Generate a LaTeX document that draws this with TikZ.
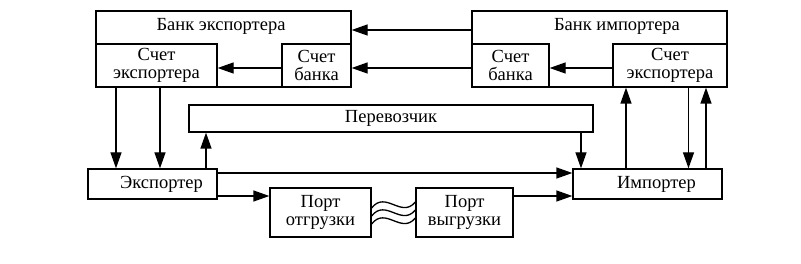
\documentclass[tikz,border=0pt]{standalone}
\usepackage{fontspec}
\setmainfont{Liberation Serif}
\usetikzlibrary{arrows.meta,positioning}

\begin{document}
\begin{tikzpicture}[
    x=1pt, y=-1pt,
    blk/.style={draw, line width=1.3pt, rectangle, inner sep=0pt, align=center,
      font=\fontsize{18.5}{17.5}\selectfont},
    lbl/.style={inner sep=0pt, font=\fontsize{18.5}{17.5}\selectfont},
    myedge/.style={-{Triangle[length=16pt,width=11pt]}, line width=1.3pt},
    wave/.style={line width=1.3pt}
]
\useasboundingbox (0,0) rectangle (801,264);

% banks
\node[blk, minimum width=255, minimum height=76] (BankE) at (223.5,49) {};
\node[lbl] (BankElbl) at (221,26) {Банк экспортера};
\node[blk, minimum width=121, minimum height=43] (AccE) at (156.5,65.5) {Счет\\экспортера};
\node[blk, minimum width=69, minimum height=43] (AccBE) at (316.5,65.5) {Счет\\банка};

\node[blk, minimum width=255, minimum height=76] (BankI) at (599.5,49) {};
\node[lbl] (BankIlbl) at (617,26) {Банк импортера};
\node[blk, minimum width=77, minimum height=43] (AccBI) at (510.5,65.5) {Счет\\банка};
\node[blk, minimum width=114, minimum height=43] (AccEI) at (670,65.5) {Счет\\экспортера};

% carrier, traders, ports
\node[blk, minimum width=404, minimum height=27] (Carrier) at (391,118.5) {Перевозчик};
\node[blk, minimum width=129, minimum height=30] (Exp) at (152.5,184) {\hspace*{18pt}Экспортер};
\node[blk, minimum width=149, minimum height=30] (Imp) at (647.5,184) {\hspace*{18pt}Импортер};
\node[blk, minimum width=101, minimum height=49] (PortO) at (320.5,212.5) {Порт\\отгрузки};
\node[blk, minimum width=97, minimum height=49] (PortV) at (464.5,212.5) {Порт\\выгрузки};

% payments between banks
\draw[myedge] ([yshift=19pt]BankI.west) -- ([yshift=19pt]BankE.east);
\draw[myedge] ([yshift=-2.5pt]AccBI.west) -- ([yshift=-2.5pt]AccBE.east);
\draw[myedge] ([yshift=-2.5pt]AccBE.west) -- ([yshift=-2.5pt]AccE.east);
\draw[myedge] ([yshift=-2.5pt]AccEI.west) -- ([yshift=-2.5pt]AccBI.east);

% exporter side
\draw[myedge] ([xshift=-40.5pt]AccE.south) -- ([xshift=-40.5pt]AccE.south |- Exp.north);
\draw[myedge] ([xshift=3.5pt]AccE.south) -- ([xshift=3.5pt]AccE.south |- Exp.north);
\draw[myedge] ([xshift=53.5pt]Exp.north) -- ([xshift=53.5pt]Exp.north |- Carrier.south);

% importer side
\draw[myedge] ([xshift=190pt]Carrier.south) -- ([xshift=190pt]Carrier.south |- Imp.north);
\draw[myedge] ([xshift=-21.5pt]Imp.north) -- ([xshift=-21.5pt]Imp.north |- AccEI.south);
\draw[myedge] ([xshift=18.5pt]AccEI.south) -- ([xshift=18.5pt]AccEI.south |- Imp.north);
\draw[myedge] ([xshift=58.5pt]Imp.north) -- ([xshift=58.5pt]Imp.north |- AccEI.south);

% goods
\draw[myedge] ([yshift=11pt]Exp.east) -- ([yshift=11pt]Exp.east -| Imp.west);
\draw[myedge] ([yshift=-12pt]Exp.east) -- ([yshift=-12pt]Exp.east -| PortO.west);
\draw[myedge] ([yshift=16.5pt]PortV.east) -- ([yshift=16.5pt]PortV.east -| Imp.west);

% sea
\foreach \s in {0,8,16} {
  \draw[wave] ([yshift=4.5pt-\s pt]PortO.east) .. controls +(14pt,18pt) and +(-14pt,-17pt) .. ([yshift=10.5pt-\s pt]PortV.west);
}
\end{tikzpicture}
\end{document}
